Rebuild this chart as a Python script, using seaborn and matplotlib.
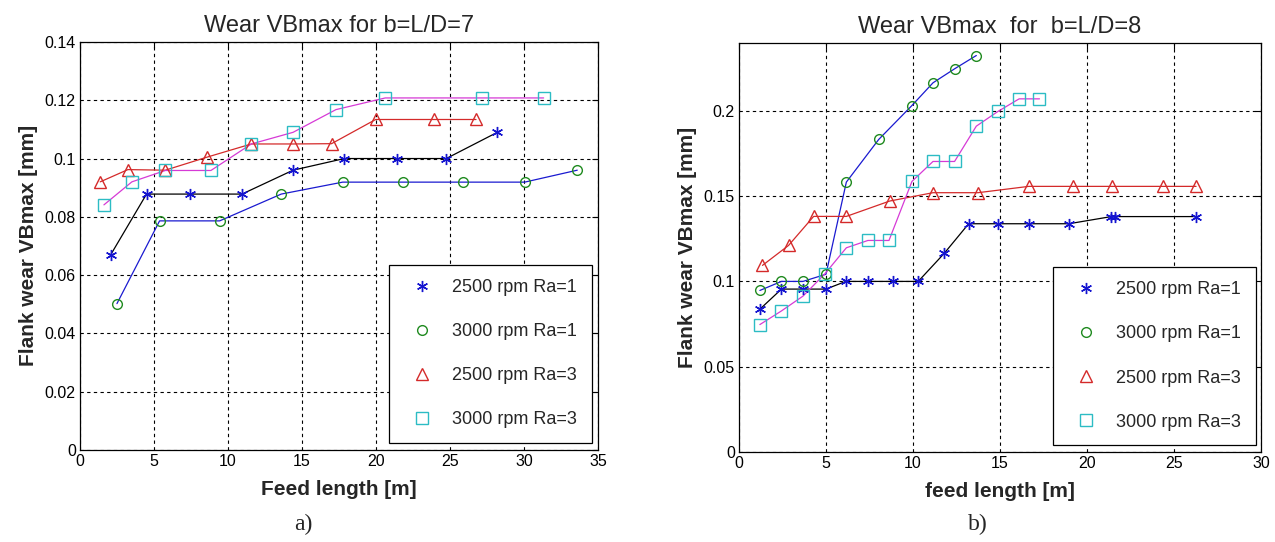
import matplotlib
matplotlib.use('Agg')
import matplotlib.pyplot as plt
import seaborn as sns

# dados lidos do grafico a) b=L/D=7
a_x_2500_ra1 = [2.07, 4.5, 7.41, 10.95, 14.4, 17.86, 21.4, 24.75, 28.2]
a_y_2500_ra1 = [0.0669, 0.0878, 0.0878, 0.0878, 0.096, 0.1, 0.1, 0.1, 0.109]
a_x_3000_ra1 = [2.5, 5.38, 9.44, 13.6, 17.75, 21.8, 25.9, 30.05, 33.6]
a_y_3000_ra1 = [0.0502, 0.0786, 0.0786, 0.0878, 0.0919, 0.0919, 0.0919, 0.0919, 0.096]
a_x_2500_ra3 = [1.37, 3.24, 5.77, 8.6, 11.58, 14.4, 17.0, 19.98, 23.9, 26.76]
a_y_2500_ra3 = [0.092, 0.0962, 0.096, 0.1005, 0.105, 0.105, 0.1051, 0.1134, 0.1134, 0.1134]
a_x_3000_ra3 = [1.62, 3.51, 5.77, 8.85, 11.58, 14.4, 17.3, 20.63, 27.14, 31.33]
a_y_3000_ra3 = [0.0841, 0.092, 0.0959, 0.0959, 0.105, 0.109, 0.1168, 0.1208, 0.1208, 0.1208]

# dados lidos do grafico b) b=L/D=8
b_x_2500_ra1 = [1.2, 2.44, 3.68, 5.0, 6.14, 7.43, 8.87, 10.3, 11.8, 13.2, 14.88, 16.65, 18.96, 21.4, 21.6, 26.27]
b_y_2500_ra1 = [0.0837, 0.0955, 0.0955, 0.0955, 0.1, 0.1, 0.1, 0.1, 0.1165, 0.1338, 0.1338, 0.1338, 0.1338, 0.138, 0.138, 0.138]
b_x_3000_ra1 = [1.2, 2.44, 3.68, 5.0, 6.17, 8.03, 9.94, 11.15, 12.39, 13.64]
b_y_3000_ra1 = [0.0947, 0.1, 0.1, 0.1042, 0.1582, 0.1832, 0.2031, 0.2164, 0.2246, 0.2324]
b_x_2500_ra3 = [1.35, 2.85, 4.29, 6.17, 8.66, 11.15, 13.74, 16.65, 19.17, 21.46, 24.37, 26.27]
b_y_2500_ra3 = [0.1094, 0.1211, 0.1381, 0.1381, 0.1471, 0.152, 0.152, 0.1557, 0.1557, 0.1557, 0.1557, 0.1557]
b_x_3000_ra3 = [1.2, 2.44, 3.68, 4.94, 6.17, 7.41, 8.62, 9.94, 11.15, 12.39, 13.64, 14.88, 16.1, 17.27]
b_y_3000_ra3 = [0.0747, 0.0827, 0.0914, 0.1045, 0.1197, 0.124, 0.124, 0.1586, 0.1703, 0.1703, 0.191, 0.1996, 0.207, 0.207]

rotulos = ['2500 rpm Ra=1', '3000 rpm Ra=1', '2500 rpm Ra=3', '3000 rpm Ra=3']

sns.set_style("white")
plt.rcParams['font.family'] = ['Liberation Sans', 'DejaVu Sans']

# cor da linha, cor do marcador, marcador, tamanho
estilos = [
    ('k', '#1414d0', (6, 2, 0), 8),
    ('#1a1ad0', '#1f8a1f', 'o', 7),
    ('#d42a2a', '#d42a2a', '^', 9),
    ('#d63ad6', '#2cbcc4', 's', 8),
]

fig = plt.figure(figsize=(12.75, 5.42), dpi=100)
ax1 = fig.add_axes([0.0627, 0.170, 0.4063, 0.7525])
ax2 = fig.add_axes([0.5796, 0.166, 0.4094, 0.7555])


def desenha(ax, series, titulo, xlabel, xlim, ylim, yticks, leg_x):
    for (x, y), (cl, cm, mk, ms) in zip(series, estilos):
        sns.lineplot(x=x, y=y, ax=ax, color=cl, lw=0.9, sort=False, estimator=None)
    for (x, y), (cl, cm, mk, ms), rot in zip(series, estilos, rotulos):
        sns.lineplot(x=x, y=y, ax=ax, linestyle='', marker=mk, markersize=ms,
                     mfc='none', mec=cm, mew=1.0, color=cm, sort=False,
                     estimator=None, label=rot)
    ax.set_xlim(*xlim)
    ax.set_ylim(*ylim)
    ax.set_yticks(yticks)
    ax.set_yticklabels(['0' if t == 0 else f'{t:g}' for t in yticks])
    ax.grid(True, color='k', linestyle=(0, (3, 3)), lw=0.8)
    ax.tick_params(direction='in', top=True, right=True, length=4, width=0.8,
                   labelsize=11.5, pad=3, colors='k')
    for s in ax.spines.values():
        s.set_color('k')
        s.set_linewidth(0.9)
    ax.set_title(titulo, fontsize=17, pad=7)
    ax.set_xlabel(xlabel, fontsize=15, fontweight='bold', labelpad=8)
    ax.set_ylabel('Flank wear VBmax [mm]', fontsize=15, fontweight='bold', labelpad=5)
    leg = ax.legend(loc='lower right', bbox_to_anchor=(leg_x, 0.017), borderaxespad=0,
                    fontsize=13, frameon=True, fancybox=False, edgecolor='k',
                    labelspacing=1.5, handletextpad=0.7, borderpad=0.8,
                    handlelength=2.0)
    leg.get_frame().set_linewidth(0.9)
    leg.get_frame().set_alpha(1)


desenha(ax1,
        [(a_x_2500_ra1, a_y_2500_ra1), (a_x_3000_ra1, a_y_3000_ra1),
         (a_x_2500_ra3, a_y_2500_ra3), (a_x_3000_ra3, a_y_3000_ra3)],
        'Wear VBmax for b=L/D=7', 'Feed length [m]', (0, 35), (0, 0.14),
        [0, 0.02, 0.04, 0.06, 0.08, 0.1, 0.12, 0.14], 0.988)

desenha(ax2,
        [(b_x_2500_ra1, b_y_2500_ra1), (b_x_3000_ra1, b_y_3000_ra1),
         (b_x_2500_ra3, b_y_2500_ra3), (b_x_3000_ra3, b_y_3000_ra3)],
        'Wear VBmax  for  b=L/D=8', 'feed length [m]', (0, 30), (0, 0.24),
        [0, 0.05, 0.1, 0.15, 0.2], 0.99)

fig.text(0.238, 0.022, 'a)', fontsize=17, family=['Liberation Serif', 'DejaVu Serif'], ha='center')
fig.text(0.767, 0.022, 'b)', fontsize=17, family=['Liberation Serif', 'DejaVu Serif'], ha='center')

fig.savefig('out.png', dpi=100)
